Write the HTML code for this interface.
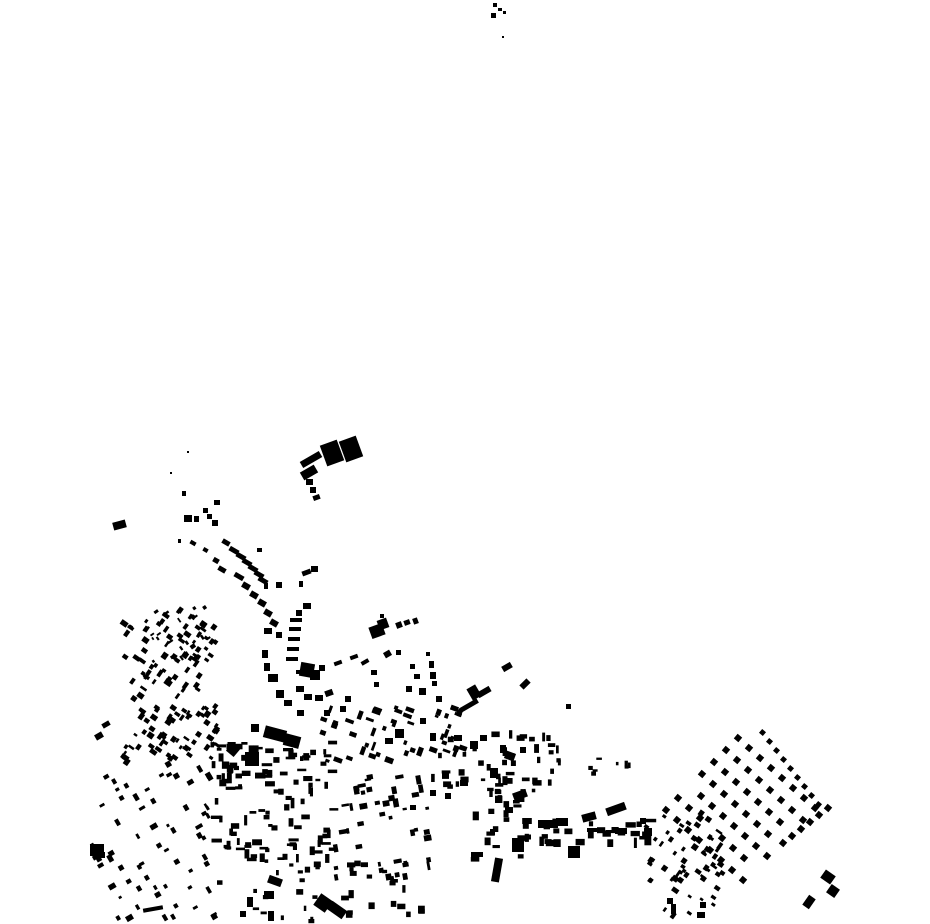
<!DOCTYPE html>
<html><head><meta charset="utf-8"><style>
html,body{margin:0;padding:0;background:#fff;width:930px;height:924px;overflow:hidden}
svg{display:block}
</style></head><body>
<svg id="s" width="930" height="924" viewBox="0 0 930 924" xmlns="http://www.w3.org/2000/svg"></svg>
<script>
var E=[
[493,3,4,4,0],[491,13,5,5,0],[498,8,4,3,0],[503,11,3,3,0],[502,36,2,2,0],
[323,442,18,22,-20],[342,438,18,22,-20],[300,456,22,7,-30],[301,468,16,9,-30],[306,479,7,6,0],[310,487,6,6,0],[313,495,7,5,-20],[187,451,2,2,0],[170,472,2,2,0],
[113,521,13,8,-15],[182,491,4,5,0],[184,515,8,7,0],[194,516,5,6,0],[203,508,5,5,0],[214,500,6,5,0],[207,514,5,5,0],[212,520,6,6,0],[178,539,3,4,0],[190,541,6,4,30],[203,548,5,4,30],
[222,540,8,5,30],[229,548,10,5,30],[236,554,10,5,30],[242,560,10,5,30],[248,566,10,5,30],[254,572,10,5,30],[258,578,10,5,30],[257,548,5,4,0],[213,558,6,5,30],[218,567,8,5,30],[234,574,10,5,30],[242,583,8,6,30],[250,592,8,6,30],[258,600,8,6,30],[264,610,8,6,30],[270,620,8,6,30],[276,582,6,6,0],[264,583,4,6,0],
[302,570,9,5,-20],[311,566,7,6,0],[299,581,4,6,0],[303,603,8,6,0],[296,610,6,6,0],[264,628,8,6,0],[276,632,6,6,0],
[290,618,12,4,0],[289,627,12,4,0],[288,637,12,4,0],[287,647,12,4,0],[286,657,12,4,0],[262,650,6,8,0],[264,663,6,8,0],[268,674,10,8,0],[276,690,8,8,0],[284,700,8,6,0],
[300,663,14,14,10],[310,670,10,10,0],[296,686,8,6,0],[304,694,8,6,0],[297,710,7,6,0],[315,695,8,6,0],[325,690,8,6,-20],[324,710,6,6,0],[345,696,6,6,0],[340,706,6,6,0],[350,655,8,4,-20],[334,661,8,4,-20],[319,665,6,6,0],[296,670,4,4,0],
[370,625,14,12,-20],[378,619,10,10,-20],[380,614,4,4,0],[396,622,6,6,-20],[404,620,6,5,-20],[413,618,5,6,-20],[361,660,8,4,-30],[384,651,7,6,-30],[371,670,6,5,0],[374,682,5,5,0],[396,650,5,5,0],[410,664,5,5,0],[426,652,4,4,0],[429,661,5,7,0],[414,674,6,5,0],[430,672,6,7,0],[406,686,6,6,0],[419,688,7,7,0],[436,696,6,6,0],[432,681,5,5,0],
[459,703,20,5,-30],[469,686,10,13,-30],[477,689,14,6,-30],[502,664,10,6,-30],[520,681,10,6,-45],[566,704,5,5,0],
[264,728,22,12,15],[284,735,16,12,15],[245,752,14,14,0],[228,745,10,10,40],[251,724,8,8,0],[90,844,14,12,0],[97,852,8,6,0],[95,733,8,6,-30],[102,722,8,5,-30],
[316,896,14,14,35],[328,905,18,10,35],[268,877,14,8,20],[264,891,10,8,0],[268,911,6,10,0],[247,897,6,10,0],[240,911,6,6,0],[143,907,20,4,-10],
[512,838,12,14,0],[493,858,8,24,10],[568,846,12,12,0],[513,791,14,8,-20],[505,807,8,6,0],[490,829,5,6,0],[471,852,12,5,0],
[822,872,12,10,35],[828,886,10,10,35],[805,896,8,12,35],
[538,820,20,8,0],[556,818,12,8,0],[582,813,14,8,-15],[606,805,20,8,-20],[587,828,10,4,0],[615,828,12,6,0],[640,818,6,6,0],[644,828,8,8,0],
[700,902,6,6,0],[697,912,8,6,0],[667,898,6,6,0],[671,904,5,10,0],
[395,729,9,9,0],[385,738,8,6,0],[420,718,6,6,0],[430,733,6,8,0],[454,735,8,6,0],[470,741,8,8,0],[480,735,7,6,0],[500,745,6,8,0],[505,752,10,8,20],[520,747,6,6,0],[490,768,8,10,0],[460,780,8,6,0],[430,790,6,6,0],[445,793,6,6,0],[410,805,6,5,0]
];
var R=[
[120,605,215,760,140,5,4,35],
[150,605,210,665,20,4,3,-35],
[90,760,215,920,65,5,4,-30],
[210,740,330,860,100,7,4,0],
[330,770,430,880,45,6,4,-10],
[215,840,330,920,25,5,4,0],
[340,855,420,920,20,6,5,0],
[320,705,460,760,50,6,4,20],
[430,730,560,790,50,6,4,0],
[470,790,520,860,18,6,5,0],
[520,815,650,840,30,7,5,0],
[640,810,720,880,40,5,4,35],
[660,860,720,915,20,5,4,35],
[580,755,630,775,8,4,3,0],
[210,760,240,800,10,6,5,0]
];
var seed=12345;function rnd(){seed=(seed*1103515245+12345)&0x7fffffff;return seed/0x7fffffff;}
var h='';
function add(x,y,w,hh,r){h+='<rect x="'+x.toFixed(1)+'" y="'+y.toFixed(1)+'" width="'+w.toFixed(1)+'" height="'+hh.toFixed(1)+'"'+(r?' transform="rotate('+r+' '+(x+w/2).toFixed(1)+' '+(y+hh/2).toFixed(1)+')"':'')+'/>';}
E.forEach(function(e){add(e[0],e[1],e[2],e[3],e[4]);});
R.forEach(function(g){for(var i=0;i<g[4];i++){var x=g[0]+rnd()*(g[2]-g[0]),y=g[1]+rnd()*(g[3]-g[1]);var w=g[5]*(0.6+rnd()*0.9),hh=g[6]*(0.6+rnd()*0.9);if(rnd()<0.4){var t=w;w=hh;hh=t;}add(x,y,w,hh,g[7]);}});
for(var a=0;a<7;a++){for(var b=0;b<8;b++){
 var x=735+b*11-a*12, y=735+b*10+a*12;
 if(x<650||y>880)continue;
 if(rnd()<0.15)continue;
 add(x,y,6,6,40);}}
for(var b=0;b<9;b++){add(760+b*7,730+b*9,5,5,40);}
for(var b=0;b<6;b++){add(780+b*9,800-b*7+40,6,6,40);}
document.getElementById('s').innerHTML=h;
</script>
</body></html>
